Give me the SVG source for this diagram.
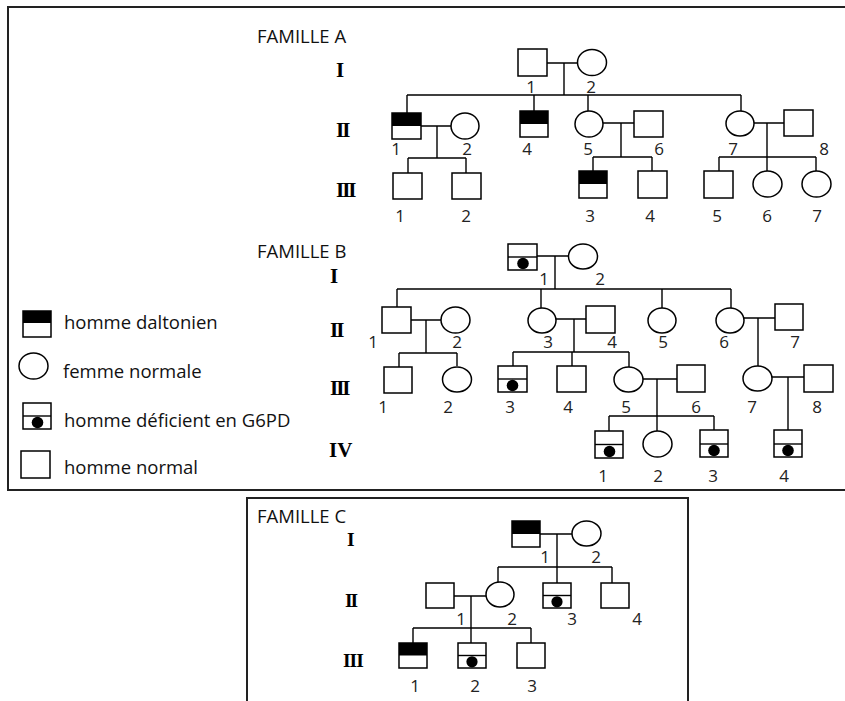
<svg xmlns="http://www.w3.org/2000/svg" width="845" height="701" viewBox="0 0 845 701">
<style>
.frame{fill:none;stroke:#222;stroke-width:2}
.ln{fill:none;stroke:#000;stroke-width:1.4}
.sym{fill:#fff;stroke:#000;stroke-width:1.5}
.blk{fill:#000}
.dot{fill:#000}
text{font-family:"Open Sans","Liberation Sans",sans-serif;fill:#111}
.ttl{font-size:18.5px}
.leg{font-size:18.5px}
.num{font-size:17px;text-anchor:middle;fill:#222}
.gen{font-family:"Liberation Serif","Times New Roman",serif;font-weight:bold;font-size:21px;fill:#000}
.gc{font-size:19.5px}
.g2{letter-spacing:-2px}
</style>
<rect width="845" height="701" fill="#fff"/>
<g id="frames">
<path class="frame" d="M845,7 H8 V490 H845"/>
<path class="frame" d="M247,701 V498 H688 V701"/>
</g>
<g id="titles">
<text class="ttl" x="257" y="43">FAMILLE A</text>
<text class="ttl" x="257" y="258">FAMILLE B</text>
<text class="ttl" x="257" y="523">FAMILLE C</text>
<text class="gen" x="336" y="77">I</text>
<text class="gen g2" x="336" y="137">II</text>
<text class="gen g2" x="336" y="197">III</text>
<text class="gen" x="330" y="283">I</text>
<text class="gen g2" x="330" y="337">II</text>
<text class="gen g2" x="330" y="395">III</text>
<text class="gen" x="329" y="457">IV</text>
<text class="gen gc" x="347" y="546">I</text>
<text class="gen gc g2" x="345" y="607">II</text>
<text class="gen gc" x="343" y="667" letter-spacing="-1">III</text>
</g>
<g id="legend">
<rect class="sym" x="23" y="311" width="28" height="26"/><rect class="blk" x="23" y="311" width="28" height="12"/>
<text class="leg" x="64" y="329">homme daltonien</text>
<ellipse class="sym" cx="33.5" cy="366" rx="14.5" ry="13"/>
<text class="leg" x="63" y="378">femme normale</text>
<rect class="sym" x="23" y="403" width="28" height="26"/><line class="ln" x1="23" y1="416" x2="51" y2="416"/><circle class="dot" cx="37.5" cy="422.5" r="5.8"/>
<text class="leg" x="64" y="427">homme déficient en G6PD</text>
<rect class="sym" x="21" y="451" width="29" height="27"/>
<text class="leg" x="64" y="474">homme normal</text>
</g>
<g id="connectors" class="ln">
<path d="M547,63 H578 M564,63 V95 M407,95 H741 M407,95 V113 M534,95 V111 M588,95 V111 M741,95 V111"/>
<path d="M421,126 H451 M437,126 V158 M408,158 H466 M408,158 V173 M466,158 V173"/>
<path d="M603,123 H634 M621,123 V157 M593,157 H652 M593,157 V171 M652,157 V171"/>
<path d="M754,123 H784 M767,123 V157 M719,157 H816 M719,157 V171 M767,157 V171 M816,157 V171"/>
<path d="M537,256 H568 M555,256 V289 M397,289 H731 M397,289 V307 M541,289 V308 M662,289 V308 M731,289 V308"/>
<path d="M411,320 H441 M426,320 V353 M399,353 H457 M399,353 V367 M457,353 V366"/>
<path d="M556,319 H586 M574,319 V352 M513,352 H629 M513,352 V366 M572,352 V366 M629,352 V367"/>
<path d="M744,318 H775 M758,318 V366"/>
<path d="M643,379 H677 M657,379 V416 M609,416 H714 M609,416 V431 M657,416 V431 M714,416 V430"/>
<path d="M772,377 H804 M788,377 V430"/>
<path d="M540,534 H572 M557,534 V567 M498,567 H612 M498,567 V582 M557,567 V583 M612,567 V583"/>
<path d="M454,596 H486 M471,596 V628 M413,628 H531 M413,628 V643 M471,628 V643 M531,628 V643"/>
</g>
<g id="A-I-1"><rect class="sym" x="518" y="49" width="29" height="27"/><text class="num" x="531" y="93">1</text></g>
<g id="A-I-2"><ellipse class="sym" cx="592" cy="62.5" rx="14.5" ry="13"/><text class="num" x="591" y="93">2</text></g>
<g id="A-II-1"><rect class="sym" x="392" y="113" width="29" height="26"/><rect class="blk" x="392" y="113" width="29" height="13"/><text class="num" x="396" y="155">1</text></g>
<g id="A-II-2"><ellipse class="sym" cx="465" cy="126" rx="14" ry="13"/><text class="num" x="467" y="155">2</text></g>
<g id="A-II-4"><rect class="sym" x="520" y="111" width="28" height="26"/><rect class="blk" x="520" y="111" width="28" height="13"/><text class="num" x="527" y="155">4</text></g>
<g id="A-II-5"><ellipse class="sym" cx="589" cy="124" rx="14" ry="13"/><text class="num" x="588" y="155">5</text></g>
<g id="A-II-6"><rect class="sym" x="634" y="111" width="29" height="26"/><text class="num" x="659" y="155">6</text></g>
<g id="A-II-7"><ellipse class="sym" cx="740" cy="123.5" rx="14" ry="12.5"/><text class="num" x="733" y="155">7</text></g>
<g id="A-II-8"><rect class="sym" x="784" y="110" width="29" height="26"/><text class="num" x="824" y="155">8</text></g>
<g id="A-III-1"><rect class="sym" x="393" y="173" width="29" height="26"/><text class="num" x="400" y="222">1</text></g>
<g id="A-III-2"><rect class="sym" x="452" y="173" width="29" height="26"/><text class="num" x="466" y="222">2</text></g>
<g id="A-III-3"><rect class="sym" x="579" y="171" width="28" height="27"/><rect class="blk" x="579" y="171" width="28" height="13"/><text class="num" x="590" y="222">3</text></g>
<g id="A-III-4"><rect class="sym" x="638" y="171" width="29" height="27"/><text class="num" x="650" y="222">4</text></g>
<g id="A-III-5"><rect class="sym" x="704" y="171" width="29" height="27"/><text class="num" x="717" y="222">5</text></g>
<g id="A-III-6"><ellipse class="sym" cx="767.5" cy="184" rx="14.5" ry="13"/><text class="num" x="767" y="222">6</text></g>
<g id="A-III-7"><ellipse class="sym" cx="816.5" cy="184" rx="14.5" ry="13"/><text class="num" x="817" y="222">7</text></g>
<g id="B-I-1"><rect class="sym" x="508" y="244" width="29" height="26"/><line class="ln" x1="508" y1="257" x2="537" y2="257"/><circle class="dot" cx="523" cy="263.5" r="5.8"/><text class="num" x="544" y="285">1</text></g>
<g id="B-I-2"><ellipse class="sym" cx="583" cy="256.5" rx="14.5" ry="12.5"/><text class="num" x="600" y="285">2</text></g>
<g id="B-II-1"><rect class="sym" x="382" y="307" width="29" height="26"/><text class="num" x="373" y="348">1</text></g>
<g id="B-II-2"><ellipse class="sym" cx="455.5" cy="320" rx="14.5" ry="13"/><text class="num" x="457" y="348">2</text></g>
<g id="B-II-3"><ellipse class="sym" cx="542" cy="320.5" rx="14" ry="12.5"/><text class="num" x="548" y="348">3</text></g>
<g id="B-II-4"><rect class="sym" x="586" y="306" width="29" height="27"/><text class="num" x="612" y="348">4</text></g>
<g id="B-II-5"><ellipse class="sym" cx="662" cy="320.5" rx="14" ry="12.5"/><text class="num" x="663" y="348">5</text></g>
<g id="B-II-6"><ellipse class="sym" cx="730" cy="320.5" rx="14" ry="12.5"/><text class="num" x="724" y="348">6</text></g>
<g id="B-II-7"><rect class="sym" x="775" y="304" width="28" height="26"/><text class="num" x="795" y="348">7</text></g>
<g id="B-III-1"><rect class="sym" x="384" y="367" width="28" height="26"/><text class="num" x="383" y="413">1</text></g>
<g id="B-III-2"><ellipse class="sym" cx="457" cy="379.5" rx="14.5" ry="12.5"/><text class="num" x="448" y="413">2</text></g>
<g id="B-III-3"><rect class="sym" x="498" y="366" width="29" height="26"/><line class="ln" x1="498" y1="379" x2="527" y2="379"/><circle class="dot" cx="512.5" cy="385.5" r="5.8"/><text class="num" x="510" y="413">3</text></g>
<g id="B-III-4"><rect class="sym" x="557" y="366" width="29" height="26"/><text class="num" x="568" y="413">4</text></g>
<g id="B-III-5"><ellipse class="sym" cx="628.5" cy="379.5" rx="14.5" ry="12.5"/><text class="num" x="626" y="413">5</text></g>
<g id="B-III-6"><rect class="sym" x="677" y="365" width="28" height="27"/><text class="num" x="696" y="413">6</text></g>
<g id="B-III-7"><ellipse class="sym" cx="757.5" cy="378.5" rx="14.5" ry="12.5"/><text class="num" x="752" y="413">7</text></g>
<g id="B-III-8"><rect class="sym" x="804" y="365" width="29" height="27"/><text class="num" x="817" y="413">8</text></g>
<g id="B-IV-1"><rect class="sym" x="595" y="431" width="28" height="27"/><line class="ln" x1="595" y1="444.5" x2="623" y2="444.5"/><circle class="dot" cx="609.5" cy="451.5" r="5.8"/><text class="num" x="603" y="482">1</text></g>
<g id="B-IV-2"><ellipse class="sym" cx="657.5" cy="444" rx="14.5" ry="13"/><text class="num" x="658" y="482">2</text></g>
<g id="B-IV-3"><rect class="sym" x="700" y="430" width="28" height="27"/><line class="ln" x1="700" y1="444" x2="728" y2="444"/><circle class="dot" cx="714" cy="450.5" r="5.8"/><text class="num" x="713" y="482">3</text></g>
<g id="B-IV-4"><rect class="sym" x="774" y="430" width="28" height="27"/><line class="ln" x1="774" y1="444" x2="802" y2="444"/><circle class="dot" cx="788" cy="450.5" r="5.8"/><text class="num" x="784" y="482">4</text></g>
<g id="C-I-1"><rect class="sym" x="512" y="521" width="28" height="26"/><rect class="blk" x="512" y="521" width="28" height="13"/><text class="num" x="545" y="563">1</text></g>
<g id="C-I-2"><ellipse class="sym" cx="586.5" cy="533.5" rx="14.5" ry="12.5"/><text class="num" x="596" y="563">2</text></g>
<g id="C-II-1"><rect class="sym" x="426" y="583" width="28" height="25"/><text class="num" x="461" y="625">1</text></g>
<g id="C-II-2"><ellipse class="sym" cx="500" cy="594.5" rx="14" ry="12.5"/><text class="num" x="512" y="625">2</text></g>
<g id="C-II-3"><rect class="sym" x="543" y="583" width="28" height="25"/><line class="ln" x1="543" y1="595.5" x2="571" y2="595.5"/><circle class="dot" cx="557" cy="601.8" r="5.6"/><text class="num" x="572" y="625">3</text></g>
<g id="C-II-4"><rect class="sym" x="601" y="583" width="28" height="25"/><text class="num" x="637" y="625">4</text></g>
<g id="C-III-1"><rect class="sym" x="399" y="643" width="28" height="25"/><rect class="blk" x="399" y="643" width="28" height="12.5"/><text class="num" x="415" y="692">1</text></g>
<g id="C-III-2"><rect class="sym" x="458" y="643" width="28" height="25"/><line class="ln" x1="458" y1="655.5" x2="486" y2="655.5"/><circle class="dot" cx="472" cy="661.8" r="5.6"/><text class="num" x="475" y="692">2</text></g>
<g id="C-III-3"><rect class="sym" x="517" y="643" width="28" height="25"/><text class="num" x="532" y="692">3</text></g>
</svg>
